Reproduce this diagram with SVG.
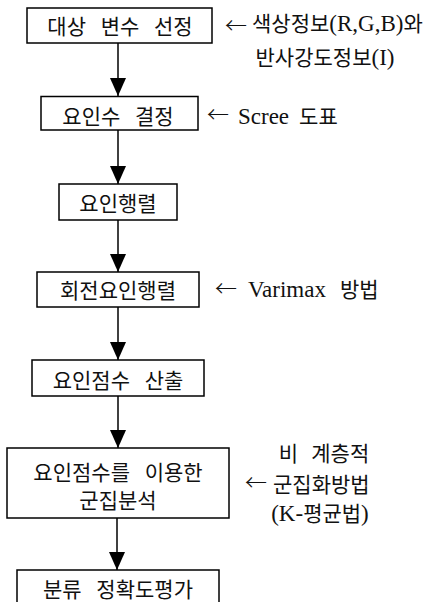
<svg xmlns="http://www.w3.org/2000/svg" width="431" height="602" viewBox="0 0 431 602">
<style>
.box{fill:#fff;stroke:#000;stroke-width:1.5}
.bt{font-family:"Noto Sans CJK KR","Noto Sans",sans-serif;font-size:21px;fill:#111;text-anchor:middle;word-spacing:10px}
.st{font-family:"Liberation Serif","Noto Sans CJK KR",serif;font-size:21px;fill:#111}
.lat{font-size:23px}
.ar{font-family:"Noto Sans CJK KR",sans-serif;font-size:22px;font-weight:300;fill:#111}
.mid{text-anchor:middle}
.conn line{stroke:#000;stroke-width:1.5}
</style>
<defs>
<marker id="ah" markerUnits="userSpaceOnUse" markerWidth="20" markerHeight="16" refX="18" refY="8" orient="auto" viewBox="0 0 18 16">
<path d="M0,0 L18,8 L0,16 Z" fill="#000"/>
</marker>
</defs>
<rect width="431" height="602" fill="#fff"/>
<g class="conn" id="connectors">
<line x1="118" y1="43" x2="118" y2="96" marker-end="url(#ah)"/>
<line x1="118" y1="130" x2="118" y2="184" marker-end="url(#ah)"/>
<line x1="118" y1="220" x2="118" y2="272" marker-end="url(#ah)"/>
<line x1="118" y1="307" x2="118" y2="360" marker-end="url(#ah)"/>
<line x1="118" y1="396" x2="118" y2="448" marker-end="url(#ah)"/>
<line x1="117" y1="518" x2="117" y2="570" marker-end="url(#ah)"/>
</g>
<g id="n1">
<rect class="box" x="27" y="8" width="185" height="35"/>
<text class="bt" x="120" y="34">대상 변수 선정</text>
</g>
<g id="n2">
<rect class="box" x="41" y="96.5" width="157" height="33.5"/>
<text class="bt" x="118" y="124">요인수 결정</text>
</g>
<g id="n3">
<rect class="box" x="59" y="184" width="118" height="36"/>
<text class="bt" x="118" y="211">요인행렬</text>
</g>
<g id="n4">
<rect class="box" x="37" y="272" width="162" height="35"/>
<text class="bt" x="118" y="298">회전요인행렬</text>
</g>
<g id="n5">
<rect class="box" x="32" y="360" width="172" height="36"/>
<text class="bt" x="118" y="388">요인점수 산출</text>
</g>
<g id="n6">
<rect class="box" x="7" y="448" width="222" height="70"/>
<text class="bt" x="118" y="480">요인점수를 이용한</text>
<text class="bt" x="118" y="508">군집분석</text>
</g>
<g id="n7">
<rect class="box" x="17" y="570" width="202" height="45"/>
<text class="bt" x="118" y="597">분류 정확도평가</text>
</g>
<g id="labels">
<text class="ar" x="225" y="33">←</text>
<text class="st" x="252" y="31">색상정보<tspan class="lat">(R,G,B)</tspan>와</text>
<text class="st mid" x="325" y="65">반사강도정보<tspan class="lat">(I)</tspan></text>
<text class="ar" x="207" y="122">←</text>
<text class="st" x="238" y="124"><tspan class="lat">Scree</tspan><tspan dx="10">도표</tspan></text>
<text class="ar" x="215" y="296">←</text>
<text class="st" x="248" y="297"><tspan class="lat">Varimax</tspan><tspan dx="14">방법</tspan></text>
<text class="st mid" x="324" y="461" word-spacing="8">비 계층적</text>
<text class="ar" x="245" y="490">←</text>
<text class="st" x="273" y="492">군집화방법</text>
<text class="st mid" x="320" y="521"><tspan class="lat">(K-</tspan>평균법<tspan class="lat">)</tspan></text>
</g>
</svg>
